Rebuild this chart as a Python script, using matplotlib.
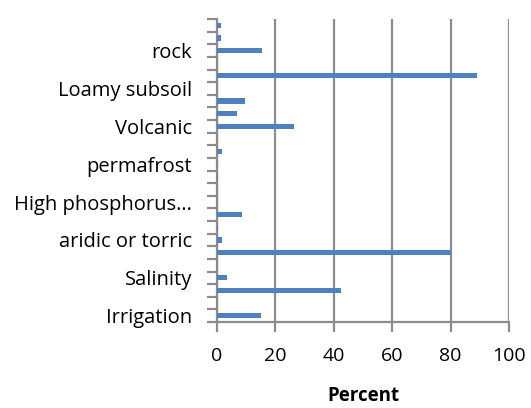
import numpy as np
import matplotlib.pyplot as plt

plt.rcParams['font.family'] = ['Open Sans', 'DejaVu Sans']

# Percent per category, bottom (index 0) to top (index 23)
values = [15, 0, 42.4, 3.5, 0, 80, 1.8, 0.3, 8.5, 0, 0, 0.5,
          0, 1.7, 0, 26.3, 6.7, 9.5, 0, 89, 0, 15.4, 1.5, 1.5]
# only every third category label is shown in the original
shown_labels = ['Irrigation', 'Salinity', 'aridic or torric', 'High phosphorus\u2026',
                'permafrost', 'Volcanic', 'Loamy subsoil', 'rock']
x_ticks = [0, 20, 40, 60, 80, 100]

grid_col = '#8c8c8c'
bar_col = '#4f81bd'

fig = plt.figure(figsize=(5.31, 4.08), dpi=100)
ax = fig.add_axes([217 / 531, 1 - 322 / 408, (509 - 217) / 531, (322 - 19) / 408])

pos = np.arange(len(values))
ax.barh(pos, values, height=0.42, color=bar_col, zorder=3)

ax.set_xlim(0, 100)
ax.set_ylim(-0.5, len(values) - 0.5)
ax.set_xticks(x_ticks)
ax.set_xticklabels([str(t) for t in x_ticks], fontsize=14)
ax.xaxis.grid(True, color=grid_col, linewidth=1.6, zorder=0)

ax.set_yticks(pos[::3])
ax.set_yticklabels(shown_labels, fontsize=14.5)
ax.set_yticks(np.arange(-0.5, len(values), 1), minor=True)
ax.tick_params(axis='y', which='major', length=0, pad=18)
ax.tick_params(axis='y', which='minor', length=7, width=1.6, color=grid_col)
ax.tick_params(axis='x', length=7, width=1.6, color=grid_col, pad=11)

for s in ['top', 'right']:
    ax.spines[s].set_visible(False)
for s in ['left', 'bottom']:
    ax.spines[s].set_color(grid_col)
    ax.spines[s].set_linewidth(1.6)

ax.set_xlabel('Percent', fontsize=13.5, fontweight='bold', labelpad=15)

fig.savefig('out.png', dpi=100)
